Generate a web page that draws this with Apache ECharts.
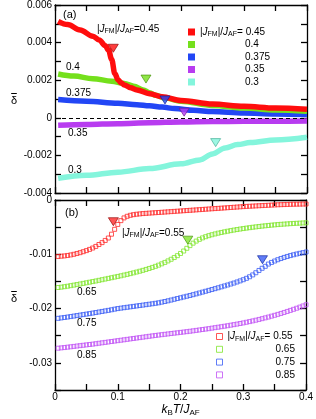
<!DOCTYPE html>
<html><head><meta charset="utf-8">
<script src="https://cdn.jsdelivr.net/npm/echarts@6/dist/echarts.min.js"></script>
<style>html,body{margin:0;padding:0;background:#fff}#c{width:316px;height:419px}</style>
</head><body><div id="c"></div>
<script>
// ---------- Panel (a) data: thick curves ----------
const xA45 = [0.005,0.02,0.04,0.06,0.07,0.08,0.085,0.09,0.095,0.1,0.105,0.11,0.12,0.13,0.15,0.17,0.2,0.25,0.3,0.35,0.4];
const yA45 = [0.00513,0.00496,0.00467,0.00434,0.00414,0.00383,0.0036,0.0031,0.00235,0.00202,0.00186,0.00175,0.0016,0.00148,0.00128,0.00112,0.00092,0.00073,0.00061,0.00052,0.00046];
const xA40 = [0.005,0.03,0.06,0.09,0.11,0.125,0.14,0.15,0.16,0.175,0.2,0.25,0.3,0.35,0.4];
const yA40 = [0.00233,0.00222,0.00208,0.00195,0.00182,0.00168,0.00148,0.00133,0.0012,0.00105,0.00088,0.00066,0.00052,0.00042,0.00035];
const xA375 = [0.005,0.05,0.1,0.13,0.15,0.17,0.19,0.22,0.25,0.3,0.35,0.4];
const yA375 = [0.00097,0.00088,0.00077,0.0007,0.00064,0.00057,0.00049,0.0004,0.00033,0.00025,0.0002,0.00017];
const xA35 = [0.005,0.05,0.1,0.15,0.2,0.25,0.3,0.35,0.4];
const yA35 = [-0.0004,-0.00036,-0.00031,-0.00026,-0.00022,-0.0002,-0.00019,-0.00018,-0.00017];
const xA30 = [0.005,0.05,0.1,0.15,0.2,0.23,0.25,0.27,0.29,0.31,0.35,0.4];
const yA30 = [-0.00322,-0.00306,-0.00289,-0.0027,-0.00245,-0.00224,-0.00192,-0.0016,-0.00142,-0.00132,-0.00118,-0.00104];
// triangles (a)
const triAx = [0.0926,0.1444,0.1746,0.205,0.255];
const triAy = [0.0037,0.00206,0.00095,0.0003,-0.00132];

// ---------- Panel (b) data: open squares ----------
const xB = [0.005,0.01,0.015,0.02,0.025,0.03,0.035,0.04,0.045,0.05,
0.055,0.06,0.065,0.07,0.075,0.08,0.085,0.09,0.095,0.1,
0.105,0.11,0.115,0.12,0.125,0.13,0.135,0.14,0.145,0.15,
0.155,0.16,0.165,0.17,0.175,0.18,0.185,0.19,0.195,0.2,
0.205,0.21,0.215,0.22,0.225,0.23,0.235,0.24,0.245,0.25,
0.255,0.26,0.265,0.27,0.275,0.28,0.285,0.29,0.295,0.3,
0.305,0.31,0.315,0.32,0.325,0.33,0.335,0.34,0.345,0.35,
0.355,0.36,0.365,0.37,0.375,0.38,0.385,0.39,0.395,0.4];
const yB55 = [-0.01040,-0.01035,-0.01030,-0.01022,-0.01012,-0.01000,-0.00985,-0.00970,-0.00952,-0.00932,
-0.00910,-0.00885,-0.00855,-0.00820,-0.00785,-0.00745,-0.00700,-0.00630,-0.00540,-0.00450,
-0.00380,-0.00330,-0.00300,-0.00282,-0.00270,-0.00262,-0.00256,-0.00250,-0.00246,-0.00242,
-0.00238,-0.00234,-0.00230,-0.00226,-0.00222,-0.00218,-0.00214,-0.00210,-0.00206,-0.00202,
-0.00198,-0.00194,-0.00190,-0.00186,-0.00182,-0.00178,-0.00174,-0.00170,-0.00166,-0.00162,
-0.00158,-0.00154,-0.00150,-0.00146,-0.00142,-0.00138,-0.00134,-0.00130,-0.00126,-0.00122,
-0.00118,-0.00115,-0.00112,-0.00109,-0.00106,-0.00103,-0.00100,-0.00097,-0.00094,-0.00091,
-0.00088,-0.00086,-0.00084,-0.00082,-0.00080,-0.00078,-0.00077,-0.00076,-0.00075,-0.00074];
const yB65 = [-0.01612,-0.01605,-0.01597,-0.01588,-0.01578,-0.01568,-0.01558,-0.01547,-0.01536,-0.01525,
-0.01514,-0.01503,-0.01492,-0.01480,-0.01468,-0.01456,-0.01444,-0.01432,-0.01420,-0.01408,
-0.01396,-0.01383,-0.01370,-0.01356,-0.01342,-0.01327,-0.01312,-0.01296,-0.01279,-0.01261,
-0.01242,-0.01222,-0.01200,-0.01176,-0.01150,-0.01122,-0.01092,-0.01060,-0.01025,-0.00985,
-0.00940,-0.00890,-0.00840,-0.00795,-0.00757,-0.00725,-0.00698,-0.00676,-0.00657,-0.00640,
-0.00625,-0.00611,-0.00598,-0.00586,-0.00575,-0.00564,-0.00554,-0.00544,-0.00535,-0.00526,
-0.00518,-0.00510,-0.00502,-0.00495,-0.00488,-0.00481,-0.00475,-0.00469,-0.00463,-0.00458,
-0.00453,-0.00448,-0.00444,-0.00440,-0.00436,-0.00432,-0.00429,-0.00426,-0.00423,-0.00420];
const yB75 = [-0.02180,-0.02172,-0.02164,-0.02156,-0.02147,-0.02138,-0.02129,-0.02120,-0.02111,-0.02102,
-0.02093,-0.02083,-0.02073,-0.02063,-0.02053,-0.02043,-0.02033,-0.02022,-0.02011,-0.02000,
-0.01992,-0.01984,-0.01976,-0.01968,-0.01960,-0.01952,-0.01944,-0.01936,-0.01928,-0.01920,
-0.01912,-0.01903,-0.01894,-0.01882,-0.01870,-0.01857,-0.01843,-0.01829,-0.01815,-0.01801,
-0.01787,-0.01773,-0.01759,-0.01744,-0.01729,-0.01713,-0.01697,-0.01681,-0.01665,-0.01649,
-0.01633,-0.01617,-0.01600,-0.01583,-0.01566,-0.01548,-0.01530,-0.01510,-0.01490,-0.01468,
-0.01443,-0.01414,-0.01380,-0.01340,-0.01298,-0.01258,-0.01222,-0.01180,-0.01150,-0.01124,
-0.01100,-0.01078,-0.01058,-0.01040,-0.01024,-0.01009,-0.00995,-0.00982,-0.00970,-0.00958];
const yB85 = [-0.02730,-0.02724,-0.02718,-0.02711,-0.02704,-0.02697,-0.02690,-0.02683,-0.02676,-0.02669,
-0.02662,-0.02655,-0.02647,-0.02639,-0.02631,-0.02623,-0.02615,-0.02607,-0.02599,-0.02591,
-0.02583,-0.02575,-0.02567,-0.02559,-0.02551,-0.02543,-0.02535,-0.02527,-0.02519,-0.02511,
-0.02503,-0.02495,-0.02488,-0.02481,-0.02474,-0.02467,-0.02460,-0.02453,-0.02446,-0.02439,
-0.02432,-0.02425,-0.02418,-0.02410,-0.02402,-0.02394,-0.02386,-0.02378,-0.02370,-0.02361,
-0.02352,-0.02343,-0.02334,-0.02325,-0.02316,-0.02306,-0.02296,-0.02286,-0.02275,-0.02264,
-0.02252,-0.02240,-0.02227,-0.02214,-0.02200,-0.02186,-0.02171,-0.02156,-0.02140,-0.02124,
-0.02107,-0.02090,-0.02072,-0.02053,-0.02034,-0.02014,-0.01994,-0.01973,-0.01952,-0.01930];
// triangles (b)
const triBx = [0.093,0.2116,0.3306];
const triBy = [-0.0040,-0.0074,-0.0110];

// ---------- names / labels ----------
const namesA = ['0.45','0.4','0.375','0.35','0.3'];
const namesB = ['0.55','0.65','0.75','0.85'];

// ---------- styling ----------
const FF = '"Liberation Sans", Arial, sans-serif';
const colA = ['#ff0d0d','#74e01c','#2246f5','#b83cf0','#84f5dc'];
const triAEdge = ['#8a0000','#3f8a00','#0a1f99','#6a1290','#3aa88f'];
const colB = ['#ff2a2a','#7fe62c','#3a5cf5','#c050f5'];
const triBEdge = ['#8a0000','#3f8a00','#0a1f99'];

const zip = (xs, ys) => xs.map((x, i) => [x, ys[i]]);
const RICH = {
  i: {fontStyle:'italic', fontSize:10, fontFamily:FF, lineHeight:12, color:'#000'},
  s: {fontSize:7, fontFamily:FF, lineHeight:6, verticalAlign:'bottom', color:'#000'},
  pa: {width:45, fontSize:10, lineHeight:12},
  pb: {width:48, fontSize:10, lineHeight:12}
};
const JLAB = '|{i|J}{s|FM}|/{i|J}{s|AF}=';

function xAx(grid, pos, labels, name) {
  return {
    type:'value', gridIndex:grid, position:pos, min:0, max:0.4, interval:0.05,
    name: name || '', nameLocation:'middle', nameGap:13,
    nameTextStyle:{fontSize:12, fontFamily:FF, color:'#000', rich:{
      i:{fontStyle:'italic', fontSize:12, fontFamily:FF, lineHeight:14, color:'#000'},
      s:{fontSize:8, fontFamily:FF, lineHeight:7, verticalAlign:'bottom', color:'#000'}}},
    axisLine:{show:true, onZero:false, lineStyle:{color:'#000', width:1.3}},
    axisTick:{show:true, inside:true, length:6, lineStyle:{color:'#000', width:1.3}},
    axisLabel:{show:labels, margin:2, fontSize:10, fontFamily:FF, color:'#000',
      formatter: v => { const k = Math.round(v*100); return k % 10 === 0 ? String(k/100) : ''; }},
    splitLine:{show:false}
  };
}
function yAx(grid, pos, min, max, interval, every, labels) {
  return {
    type:'value', gridIndex:grid, position:pos, min:min, max:max, interval:interval,
    axisLine:{show:true, onZero:false, lineStyle:{color:'#000', width:1.3}},
    axisTick:{show:true, inside:true, length:6, lineStyle:{color:'#000', width:1.3}},
    axisLabel:{show:labels, margin:3, fontSize:10, fontFamily:FF, color:'#000',
      formatter: v => { const k = Math.round(v*1000); return k % every === 0 ? String(k/1000) : ''; }},
    splitLine:{show:false}
  };
}

const linesA = [
  {name:namesA[4], x:xA30, y:yA30, c:colA[4]},
  {name:namesA[3], x:xA35, y:yA35, c:colA[3]},
  {name:namesA[2], x:xA375, y:yA375, c:colA[2]},
  {name:namesA[1], x:xA40, y:yA40, c:colA[1]},
  {name:namesA[0], x:xA45, y:yA45, c:colA[0]}
];
const series = [];
linesA.forEach((L, idx) => {
  const s = {
    name:L.name, type:'line', xAxisIndex:0, yAxisIndex:0, data:zip(L.x, L.y),
    smooth:0.35, smoothMonotone:'x', showSymbol:false, symbol:'none',
    lineStyle:{color:L.c, width:5.5}, itemStyle:{color:L.c}, z:2+idx
  };
  if (idx === 0) {
    s.markLine = {silent:true, symbol:'none', label:{show:false},
      lineStyle:{color:'#000', width:1.2, type:[4,3]}, data:[{yAxis:0}]};
  }
  series.push(s);
});
series.push({
  type:'scatter', xAxisIndex:0, yAxisIndex:0, z:10,
  symbol:'path://M0,0L10,0L5,8Z', symbolSize:[10,8],
  data: zip(triAx, triAy).map((p, i) => ({value:p, itemStyle:{color:colA[i], borderColor:triAEdge[i], borderWidth:0.8}}))
});
namesB.forEach((n, i) => {
  const ys = [yB55, yB65, yB75, yB85][i];
  series.push({
    name:n, type:'scatter', xAxisIndex:2, yAxisIndex:2, data:zip(xB, ys),
    symbol:'rect', symbolSize:4,
    itemStyle:{color:'rgba(0,0,0,0)', borderColor:colB[i], borderWidth:1}, z:2+i
  });
});
series.push({
  type:'scatter', xAxisIndex:2, yAxisIndex:2, z:10,
  symbol:'path://M0,0L10,0L5,8Z', symbolSize:[10,8],
  data: zip(triBx, triBy).map((p, i) => ({value:p, itemStyle:{color:colB[i], borderColor:triBEdge[i], borderWidth:0.8}}))
});

function txt(str, x, cy, size) {
  return {type:'text', x:x, y:cy, z:20, style:{text:str, fill:'#000', fontSize:size||10, fontFamily:FF,
    verticalAlign:'middle', align:'left', lineHeight:12, rich:RICH}};
}
// y-axis title: delta with an overbar
function deltaBar(cx, cy) {
  return {type:'group', z:20, children:[
    {type:'text', x:cx, y:cy, style:{text:'δ', fill:'#000', fontSize:11, fontFamily:FF, align:'center', verticalAlign:'middle'}},
    {type:'line', shape:{x1:cx-2.8, y1:cy-7, x2:cx+2.8, y2:cy-7}, style:{stroke:'#000', lineWidth:1}}
  ]};
}

const option = {
  animation:false,
  backgroundColor:'#fff',
  grid:[
    {left:55, top:5, width:252, height:188},
    {left:55, top:200, width:252, height:190}
  ],
  xAxis:[ xAx(0,'bottom',false), xAx(0,'top',false), xAx(1,'bottom',true,'{i|k}{s|B}{i|T}/{i|J}{s|AF}'), xAx(1,'top',false) ],
  yAxis:[ yAx(0,'left',-0.004,0.006,0.001,2,true), yAx(0,'right',-0.004,0.006,0.001,2,false),
          yAx(1,'left',-0.035,0,0.005,10,true), yAx(1,'right',-0.035,0,0.005,10,false) ],
  legend:[
    {data:namesA.map(n => ({name:n, icon:'rect'})), orient:'vertical', left:188, top:26, padding:0,
     itemWidth:7, itemHeight:7, itemGap:0.5, selectedMode:false,
     formatter: n => n === namesA[0] ? JLAB + ' ' + n : '{pa| }' + n,
     textStyle:{fontSize:10, fontFamily:FF, color:'#000', lineHeight:12, rich:RICH}},
    {data:namesB.map((n, i) => ({name:n, icon:'rect', itemStyle:{color:'rgba(0,0,0,0)', borderColor:colB[i], borderWidth:1}})),
     orient:'vertical', left:216, top:330.5, padding:0,
     itemWidth:6, itemHeight:6, itemGap:0.8, selectedMode:false,
     formatter: n => n === namesB[0] ? JLAB + ' ' + n : '{pb| }' + n,
     textStyle:{fontSize:10, fontFamily:FF, color:'#000', lineHeight:12, rich:RICH}}
  ],
  graphic:[
    deltaBar(14, 100.5),
    deltaBar(14, 298.5),
    txt('(a)', 63, 15, 11),
    txt(JLAB + '0.45', 97, 29),
    txt('0.4', 66, 67),
    txt('0.375', 66, 93),
    txt('0.35', 68, 133),
    txt('0.3', 68, 170),
    txt('(b)', 65, 213, 11),
    txt(JLAB + '0.55', 122, 233),
    txt('0.65', 77, 292),
    txt('0.75', 77, 323),
    txt('0.85', 77, 355)
  ],
  series: series
};
const chart = echarts.init(document.getElementById('c'), null, {renderer:'canvas'});
chart.setOption(option);
</script></body></html>
